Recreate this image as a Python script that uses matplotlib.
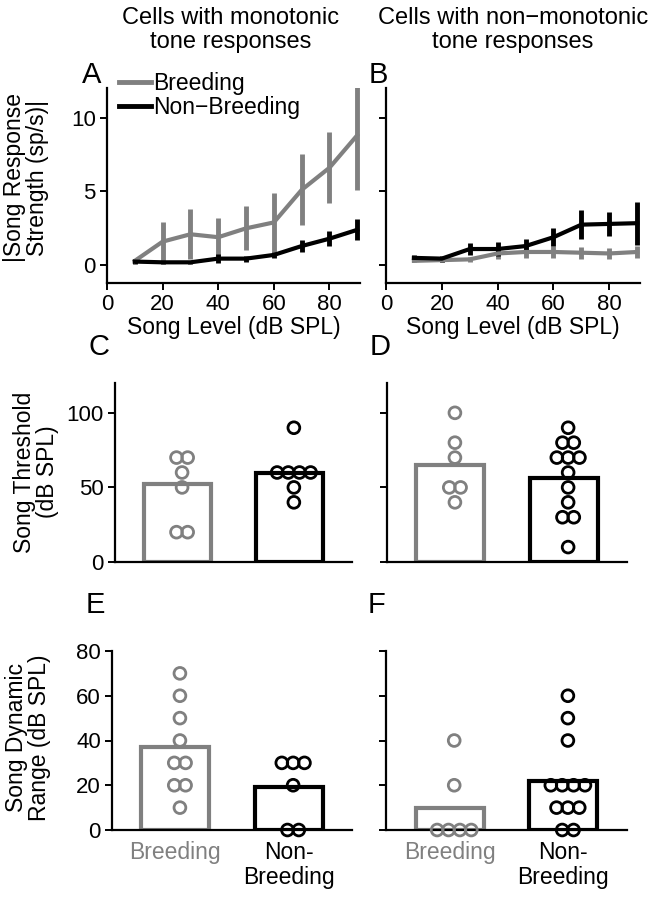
import numpy as np
import matplotlib
matplotlib.use("Agg")
import matplotlib.pyplot as plt
from matplotlib.lines import Line2D

plt.rcParams['font.family'] = ['Liberation Sans', 'DejaVu Sans']

GRAY = '#808080'
BLACK = '#000000'

# song level curves (A: monotonic, B: non-monotonic)
levels = [10, 20, 30, 40, 50, 60, 70, 80, 90]
a_br_mean = [0.3, 1.6, 2.1, 1.9, 2.5, 2.9, 5.1, 6.6, 8.8]
a_br_err = [0.0, 1.3, 1.7, 1.3, 1.5, 2.0, 2.4, 2.4, 3.7]
a_nb_mean = [0.25, 0.2, 0.2, 0.45, 0.45, 0.7, 1.3, 1.8, 2.4]
a_nb_err = [0.15, 0.1, 0.1, 0.3, 0.2, 0.2, 0.4, 0.5, 0.7]
b_br_mean = [0.3, 0.35, 0.4, 0.8, 0.9, 0.9, 0.85, 0.8, 0.9]
b_br_err = [0.1, 0.1, 0.15, 0.4, 0.4, 0.4, 0.4, 0.35, 0.4]
b_nb_mean = [0.5, 0.45, 1.1, 1.1, 1.3, 1.9, 2.75, 2.8, 2.85]
b_nb_err = [0.2, 0.2, 0.4, 0.45, 0.5, 0.6, 1.0, 0.8, 1.45]

# thresholds (C, D)
c_br_bar, c_nb_bar = 52, 60
c_br_pts = [70, 70, 60, 50, 20, 20]
c_nb_pts = [90, 60, 60, 60, 60, 50, 40]
d_br_bar, d_nb_bar = 65, 56
d_br_pts = [100, 80, 70, 50, 50, 40]
d_nb_pts = [90, 80, 80, 70, 70, 70, 60, 50, 40, 30, 30, 10]

# dynamic range (E, F)
e_br_bar, e_nb_bar = 37, 19
e_br_pts = [70, 60, 50, 40, 30, 30, 20, 20, 10]
e_nb_pts = [30, 30, 30, 20, 0, 0]
f_br_bar, f_nb_bar = 10, 22
f_br_pts = [40, 20, 0, 0, 0, 0]
f_nb_pts = [60, 50, 40, 20, 20, 20, 20, 10, 10, 10, 0, 0]

groups = ['Breeding', 'Non-\nBreeding']

FS = 16.5
TFS = 16

W, H = 655, 899
fig = plt.figure(figsize=(W / 100, H / 100), dpi=100)


def add(l, r, t, b):
    return fig.add_axes([l / W, 1 - b / H, (r - l) / W, (b - t) / H])


def style(ax):
    for s in ['top', 'right']:
        ax.spines[s].set_visible(False)
    for s in ['left', 'bottom']:
        ax.spines[s].set_linewidth(1.6)
    ax.tick_params(width=1.4, length=5, labelsize=TFS, pad=3)


def line_panel(ax, br_m, br_e, nb_m, nb_e, show_y):
    ax.errorbar(levels, br_m, yerr=br_e, color=GRAY, lw=3, elinewidth=3.5, capsize=0)
    ax.errorbar(levels, nb_m, yerr=nb_e, color=BLACK, lw=3, elinewidth=3.5, capsize=0)
    style(ax)
    ax.set_xlim(0, 91)
    ax.set_ylim(-1.2, 12)
    ax.set_xticks([0, 20, 40, 60, 80])
    ax.set_yticks([0, 5, 10])
    if not show_y:
        ax.set_yticklabels([])
    ax.set_xlabel('Song Level (dB SPL)', fontsize=FS, labelpad=1)


def spread(vals):
    vals = np.array(vals, dtype=float)
    xs = np.zeros(len(vals))
    for v in np.unique(vals):
        idx = np.where(vals == v)[0]
        n = len(idx)
        xs[idx] = (np.arange(n) - (n - 1) / 2) * 0.1 + 0.04
    return xs


def bar_panel(ax, bars, pts, ylim, yticks, show_y, show_x):
    cols = [GRAY, BLACK]
    for i in range(2):
        ax.bar(i, bars[i], width=0.6, facecolor='white', edgecolor=cols[i],
               linewidth=3, zorder=2)
        ax.scatter(i + spread(pts[i]), pts[i], s=72, facecolor='none',
                   edgecolor=cols[i], linewidth=2, zorder=3, clip_on=False)
    style(ax)
    ax.set_xlim(-0.56, 1.56)
    ax.set_ylim(*ylim)
    ax.set_yticks(yticks)
    if not show_y:
        ax.set_yticklabels([])
    ax.set_xticks([0, 1])
    ax.tick_params(axis='x', length=0, pad=8)
    if show_x:
        ax.set_xticklabels(groups, fontsize=FS, linespacing=1.1)
        ax.get_xticklabels()[0].set_color(GRAY)
    else:
        ax.set_xticklabels([])


axA = add(107, 360, 88, 283)
axB = add(386, 640, 88, 283)
axC = add(115, 352, 383, 562)
axD = add(387, 627, 383, 562)
axE = add(112, 352, 651, 830)
axF = add(386, 627, 651, 830)

line_panel(axA, a_br_mean, a_br_err, a_nb_mean, a_nb_err, True)
line_panel(axB, b_br_mean, b_br_err, b_nb_mean, b_nb_err, False)
handles = [Line2D([], [], color=GRAY, lw=3.5), Line2D([], [], color=BLACK, lw=3.5)]
axA.legend(handles, ['Breeding', 'Non\u2212Breeding'], loc='upper left',
           bbox_to_anchor=(0.01, 1.13), frameon=False, fontsize=FS,
           handlelength=1.4, handletextpad=0.1, labelspacing=0.05, borderaxespad=0)

bar_panel(axC, [c_br_bar, c_nb_bar], [c_br_pts, c_nb_pts], (0, 120), [0, 50, 100], True, False)
bar_panel(axD, [d_br_bar, d_nb_bar], [d_br_pts, d_nb_pts], (0, 120), [0, 50, 100], False, False)
bar_panel(axE, [e_br_bar, e_nb_bar], [e_br_pts, e_nb_pts], (0, 80), [0, 20, 40, 60, 80], True, True)
bar_panel(axF, [f_br_bar, f_nb_bar], [f_br_pts, f_nb_pts], (0, 80), [0, 20, 40, 60, 80], False, True)

fig.text(231 / W, 1 - 30 / H, 'Cells with monotonic\ntone responses', fontsize=17,
         ha='center', va='center', linespacing=1.1)
fig.text(513 / W, 1 - 30 / H, 'Cells with non\u2212monotonic\ntone responses', fontsize=17,
         ha='center', va='center', linespacing=1.1)

for lab, x, y in [('A', 92, 75), ('B', 378, 75), ('C', 99, 347),
                  ('D', 380, 347), ('E', 95, 605), ('F', 376, 605)]:
    fig.text(x / W, 1 - y / H, lab, fontsize=21, ha='center', va='center')

fig.text(26 / W, 1 - 178 / H, '|Song Response\nStrength (sp/s)|', fontsize=FS,
         rotation=90, ha='center', va='center', linespacing=1.0)
fig.text(36 / W, 1 - 472 / H, 'Song Threshold\n(dB SPL)', fontsize=FS,
         rotation=90, ha='center', va='center', linespacing=1.0)
fig.text(28 / W, 1 - 738 / H, 'Song Dynamic\nRange (dB SPL)', fontsize=FS,
         rotation=90, ha='center', va='center', linespacing=1.0)

fig.savefig('out.png', dpi=100)
